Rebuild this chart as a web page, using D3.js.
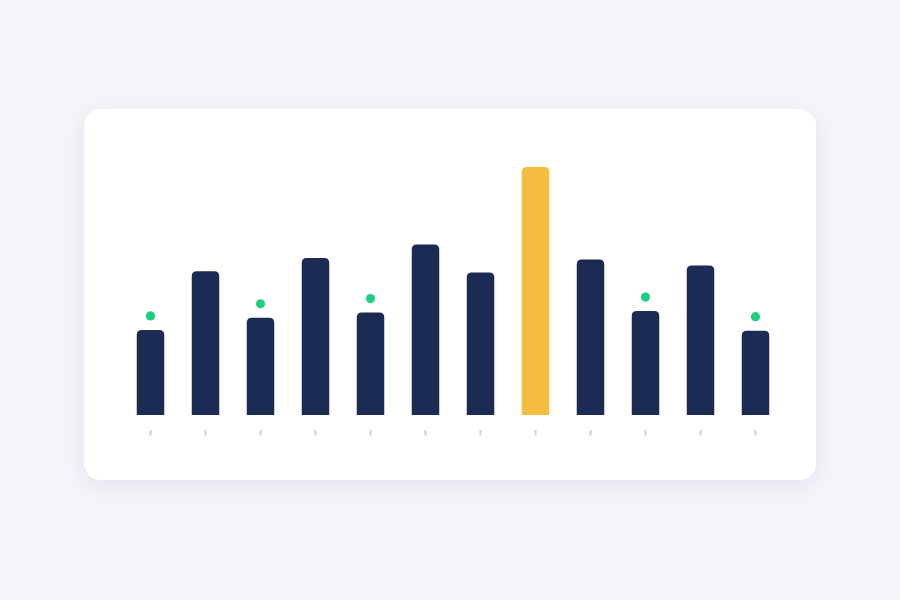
<!DOCTYPE html>
<html>
<head>
<meta charset="utf-8">
<script src="https://cdn.jsdelivr.net/npm/d3@7"></script>
<style>
  html, body { margin: 0; padding: 0; background: #f4f5f9; }
  svg { display: block; }
</style>
</head>
<body>
<script>
// data
const categories = ['1', '2', '3', '4', '5', '6', '7', '8', '9', '10', '11', '12']
const values = [34.3, 58, 39.2, 63.3, 41.3, 68.8, 57.5, 100, 62.7, 41.9, 60.3, 34]
const highlight = ['8']
const markers = ['1', '3', '5', '10', '12']

const W = 900, H = 600
const svg = d3.select('body').append('svg')
    .attr('width', W)
    .attr('height', H)

// card shadow
const defs = svg.append('defs')
const f = defs.append('filter')
    .attr('id', 'shadow')
    .attr('x', '-20%').attr('y', '-20%')
    .attr('width', '140%').attr('height', '150%')
f.append('feDropShadow')
    .attr('dx', 0).attr('dy', 6)
    .attr('stdDeviation', 12)
    .attr('flood-color', '#1c2b54')
    .attr('flood-opacity', 0.07)

svg.append('rect')
    .attr('x', 84).attr('y', 109)
    .attr('width', 732).attr('height', 371)
    .attr('rx', 17)
    .attr('fill', '#ffffff')
    .attr('filter', 'url(#shadow)')

// scales
const x = d3.scaleBand()
    .domain(categories)
    .range([123, 783])
    .paddingInner(0.5)
    .paddingOuter(0.25)

const y = d3.scaleLinear()
    .domain([0, 100])
    .range([415, 167])

// bar with rounded top corners
function barPath(d, i) {
    const x0 = x(categories[i]), w = x.bandwidth()
    const y0 = y(d), yb = y(0), r = 5
    return `M${x0},${yb} L${x0},${y0 + r} Q${x0},${y0} ${x0 + r},${y0}` +
        ` L${x0 + w - r},${y0} Q${x0 + w},${y0} ${x0 + w},${y0 + r} L${x0 + w},${yb} Z`
}

const g = svg.append('g')

g.selectAll('path.bar')
    .data(values)
    .enter()
    .append('path')
    .attr('class', 'bar')
    .attr('d', barPath)
    .attr('fill', (d, i) => highlight.includes(categories[i]) ? '#f5bd3f' : '#1c2b54')

// green markers above some bars
g.selectAll('circle.marker')
    .data(values.map((v, i) => ({ c: categories[i], v })).filter(d => markers.includes(d.c)))
    .enter()
    .append('circle')
    .attr('class', 'marker')
    .attr('cx', d => x(d.c) + x.bandwidth() / 2)
    .attr('cy', d => y(d.v) - 14)
    .attr('r', 4.6)
    .attr('fill', '#1ecf80')

// tick placeholders under each bar
g.selectAll('rect.tick')
    .data(categories)
    .enter()
    .append('rect')
    .attr('class', 'tick')
    .attr('x', d => x(d) + x.bandwidth() / 2 - 1.2)
    .attr('y', 430)
    .attr('width', 2.4)
    .attr('height', 5.5)
    .attr('fill', '#d4d6dc')
</script>
</body>
</html>
